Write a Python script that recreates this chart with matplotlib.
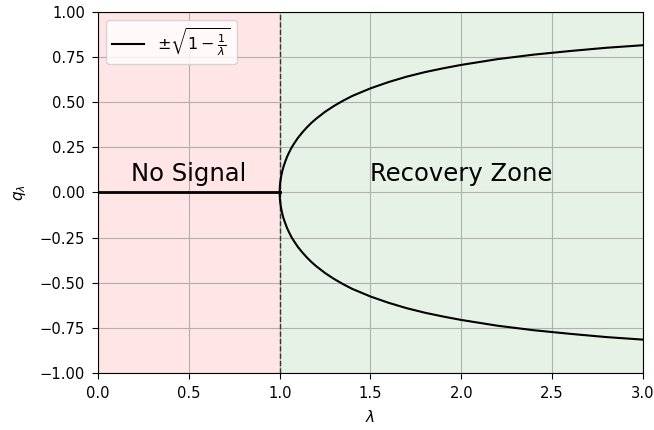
import numpy as np
import matplotlib.pyplot as plt

## valores
lam_nosig = [0.0, 1.0]
q_nosig = [0.0, 0.0]

lam = [1.0, 1.0002, 1.0005, 1.001, 1.002, 1.0035, 1.005, 1.0075, 1.01, 1.015, 1.02,
       1.03, 1.04, 1.05, 1.065, 1.08, 1.1, 1.125, 1.15, 1.175, 1.2, 1.25, 1.3, 1.35,
       1.4, 1.5, 1.6, 1.7, 1.8, 1.9, 2.0, 2.2, 2.4, 2.6, 2.8, 3.0]
q_up = [0.0, 0.014, 0.022, 0.032, 0.045, 0.059, 0.071, 0.086, 0.099, 0.121, 0.140,
        0.169, 0.196, 0.218, 0.248, 0.272, 0.302, 0.333, 0.361, 0.386, 0.408,
        0.447, 0.480, 0.509, 0.535, 0.577, 0.612, 0.642, 0.667, 0.688, 0.707,
        0.739, 0.764, 0.784, 0.802, 0.816]
q_down = [-v for v in q_up]

fig, ax = plt.subplots(figsize=(6.54, 4.3), dpi=100)

## zonas
ax.axvspan(0, 1, color="red", alpha=0.1)
ax.axvspan(1, 3, color="green", alpha=0.1)
ax.axvline(1, color="k", linestyle="--", linewidth=1, alpha=0.7)

## curvas
ax.plot(lam_nosig, q_nosig, color="k", linewidth=2)
ax.plot(lam, q_up, color="k", linewidth=1.5, label=r"$\pm\sqrt{1-\frac{1}{\lambda}}$")
ax.plot(lam, q_down, color="k", linewidth=1.5)

ax.text(0.5, 0.1, "No Signal", fontsize=17.5, ha="center", va="center")
ax.text(2.0, 0.1, "Recovery Zone", fontsize=17.5, ha="center", va="center")

ax.set_xlim(0, 3)
ax.set_ylim(-1, 1)
ax.set_xlabel(r"$\lambda$", fontsize=11, labelpad=6)
ax.set_ylabel(r"$q_\lambda$", fontsize=11, labelpad=8)
ax.tick_params(labelsize=10.6, length=4.5, pad=5)
ax.grid(True)
ax.legend(loc="upper left", fontsize=11.5)

fig.subplots_adjust(left=0.15, right=0.983, top=0.972, bottom=0.133)
plt.savefig("out.png")
